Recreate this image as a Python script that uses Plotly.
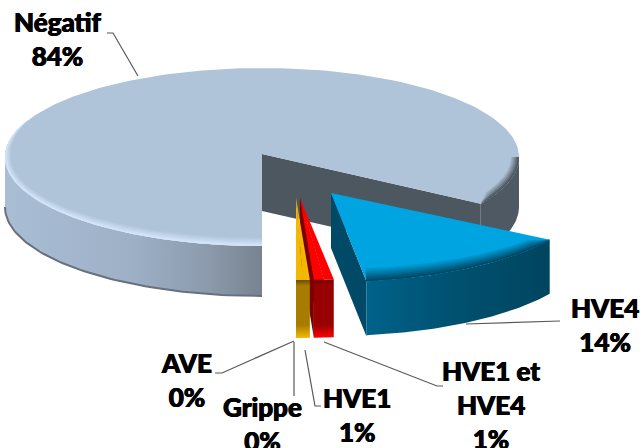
import math
import plotly.graph_objects as go

# Data, in chart order (clockwise from straight down)
categories = ["Négatif", "HVE4", "HVE1 et<br>HVE4", "HVE1", "Grippe", "AVE"]
values = [83.8, 14.0, 0.65, 0.65, 0.45, 0.45]

# Pie geometry (pixels on the hidden axes)
CX, CY, RX, RY = 262, 157, 257, 89
DEPTH = 50
START = 90.0

angles = []
t = START
for v in values:
    angles.append((t, t + v * 3.6))
    t += v * 3.6

fig = go.Figure()


def arc(t0, t1, rx=RX, ry=RY, cx=CX, cy=CY, n=60):
    ts = [t0 + (t1 - t0) * i / n for i in range(n + 1)]
    return ([cx + rx * math.cos(math.radians(a)) for a in ts],
            [cy + ry * math.sin(math.radians(a)) for a in ts])


def poly(xs, ys, color=None, grad=None, gtype="horizontal"):
    kw = dict(x=xs, y=ys, mode="lines", fill="toself", line=dict(width=0),
              hoverinfo="skip", showlegend=False)
    if grad:
        kw["fillgradient"] = dict(type=gtype, colorscale=grad)
    else:
        kw["fillcolor"] = color
    fig.add_trace(go.Scatter(**kw))


def wall(t0, t1, depth=DEPTH, color=None, grad=None, gtype="horizontal", **g):
    x, y = arc(t0, t1, **g)
    poly(x + x[::-1], y + [v + depth for v in y[::-1]], color, grad, gtype)


def cut(t, ax, ay, depth, color, **g):
    x, y = arc(t, t, n=1, **g)
    poly([ax, x[0], x[0], ax, ax], [ay, y[0], y[0] + depth, ay + depth, ay], color)


def sector(t0, t1, ax, ay, color, **g):
    x, y = arc(t0, t1, n=120, **g)
    poly([ax] + x + [ax], [ay] + y + [ay], color)


def mix(c0, c1, f):
    a = [int(c0[i:i + 2], 16) for i in (1, 3, 5)]
    b = [int(c1[i:i + 2], 16) for i in (1, 3, 5)]
    return "#%02x%02x%02x" % tuple(round(p + (q - p) * f) for p, q in zip(a, b))


def bevel(t0, t1, inner, outer, dx, dy, steps=7, taper_start=0, taper_end=0, **g):
    """Shade the rim from the face colour (inner) to the edge colour (outer)."""
    rx, ry = g.get("rx", RX), g.get("ry", RY)
    cx, cy = g.get("cx", CX), g.get("cy", CY)
    n = 80
    for k in range(steps):
        f0 = 1 - k / steps
        xi, yi = [], []
        for i in range(n + 1):
            a = t0 + (t1 - t0) * i / n
            w = 1.0
            if taper_start:
                w = min(w, abs(a - t0) / taper_start)
            if taper_end:
                w = min(w, abs(t1 - a) / taper_end)
            r = math.radians(a)
            xi.append(cx + (rx - dx * f0 * w) * math.cos(r))
            yi.append(cy + (ry - dy * f0 * w) * math.sin(r))
        x1, y1 = arc(t0, t1, rx=rx, ry=ry, cx=cx, cy=cy, n=n)
        poly(xi + x1[::-1], yi + y1[::-1], mix(inner, outer, (k + 1) / steps))


# Négatif
a0, a1 = angles[0]
wall(360, a1, color="#4f5963")
cut(a1, CX, 154, 57, "#4d5760")
wall(90, 180, grad=[[0, "#a9bdd5"], [0.5, "#9db0c6"], [0.8, "#8b99ab"], [1, "#77838f"]])
bx, by = arc(90, 180, cy=CY + DEPTH)
fig.add_trace(go.Scatter(x=bx, y=by, mode="lines", line=dict(color="#66717d", width=2),
                         hoverinfo="skip", showlegend=False))
x, y = arc(a0, a1, n=200)
poly([CX] + x + [CX], [154] + y + [154], "#afc3d9")
bevel(90, 205, "#afc3d9", "#d4e5fa", 6, 8, taper_end=25)
bevel(360, a1, "#afc3d9", "#4d5760", 8, 9, taper_end=6)

# HVE4
H = dict(cx=CX + 69, cy=CY + 36)
b0, b1 = angles[1]
cut(b1, CX + 69, 193, 55, "#004a68", **H)
wall(b0, b1, depth=54, grad=[[0, "#00628a"], [0.5, "#00506f"], [1, "#004560"]], **H)
sector(b0, b1, CX + 69, 193, "#00a4e0", **H)
bevel(b0, b1, "#00a4e0", "#004a68", 7, 13, taper_start=6, **H)

# HVE1 et HVE4 + HVE1 (red), Grippe + AVE (gold)
R = dict(cx=300, cy=198, rx=245, ry=82)
G = dict(cx=296, cy=198, rx=245, ry=82)
SMALL_DEPTH = 58
for i, g, top, wl, side in [(2, R, "#ff0000", "#990000", "#7a0000"),
                            (3, R, "#ff0000", "#990000", "#7a0000"),
                            (4, G, "#f5b800", "#a87c00", "#8a6500"),
                            (5, G, "#f5b800", "#a87c00", "#8a6500")]:
    c0, c1 = angles[i]
    cut(c1, g["cx"], g["cy"], SMALL_DEPTH, side, **g)
    wall(c0, c1, depth=SMALL_DEPTH, grad=[[0, top], [0.22, wl], [0.9, wl], [1, "#6a4a00" if i > 3 else "#700000"]],
         gtype="vertical", **g)
    sector(c0, c1, g["cx"], g["cy"], top, **g)

# Leader lines
leaders = [
    ([107, 113, 138], [33, 33, 76]),
    ([466, 560], [324, 321]),
    ([215, 222, 294], [373, 373, 341]),
    ([294, 294], [342, 396]),
    ([305, 315, 321], [350, 406, 406]),
    ([324, 437, 443], [342, 386, 386]),
]
for lx, ly in leaders:
    fig.add_trace(go.Scatter(x=lx, y=ly, mode="lines", line=dict(color="#595959", width=1.2),
                             hoverinfo="skip", showlegend=False))

# Labels: centre of the text block for each category
label_pos = [(58, 39), (605, 325), (491, 405), (357, 415), (262, 424), (186, 380)]
for cat, v, (lx, ly) in zip(categories, values, label_pos):
    fig.add_annotation(x=lx, y=ly, xref="x", yref="y", text=f"{cat}<br>{round(v)}%",
                       showarrow=False, align="center",
                       font=dict(family="Lato", size=26, weight=900, color="#000000",
                                 shadow="0.5px 0 0 #000, -0.5px 0 0 #000"))

fig.update_layout(
    width=643, height=448, margin=dict(l=0, r=0, t=0, b=0),
    paper_bgcolor="white", plot_bgcolor="white", showlegend=False,
    xaxis=dict(range=[0, 643], visible=False, fixedrange=True),
    yaxis=dict(range=[448, 0], visible=False, fixedrange=True),
)
fig.write_html("out.html", config={"displayModeBar": False},
               post_script="document.body.style.margin='0';document.body.style.overflow='hidden';")
